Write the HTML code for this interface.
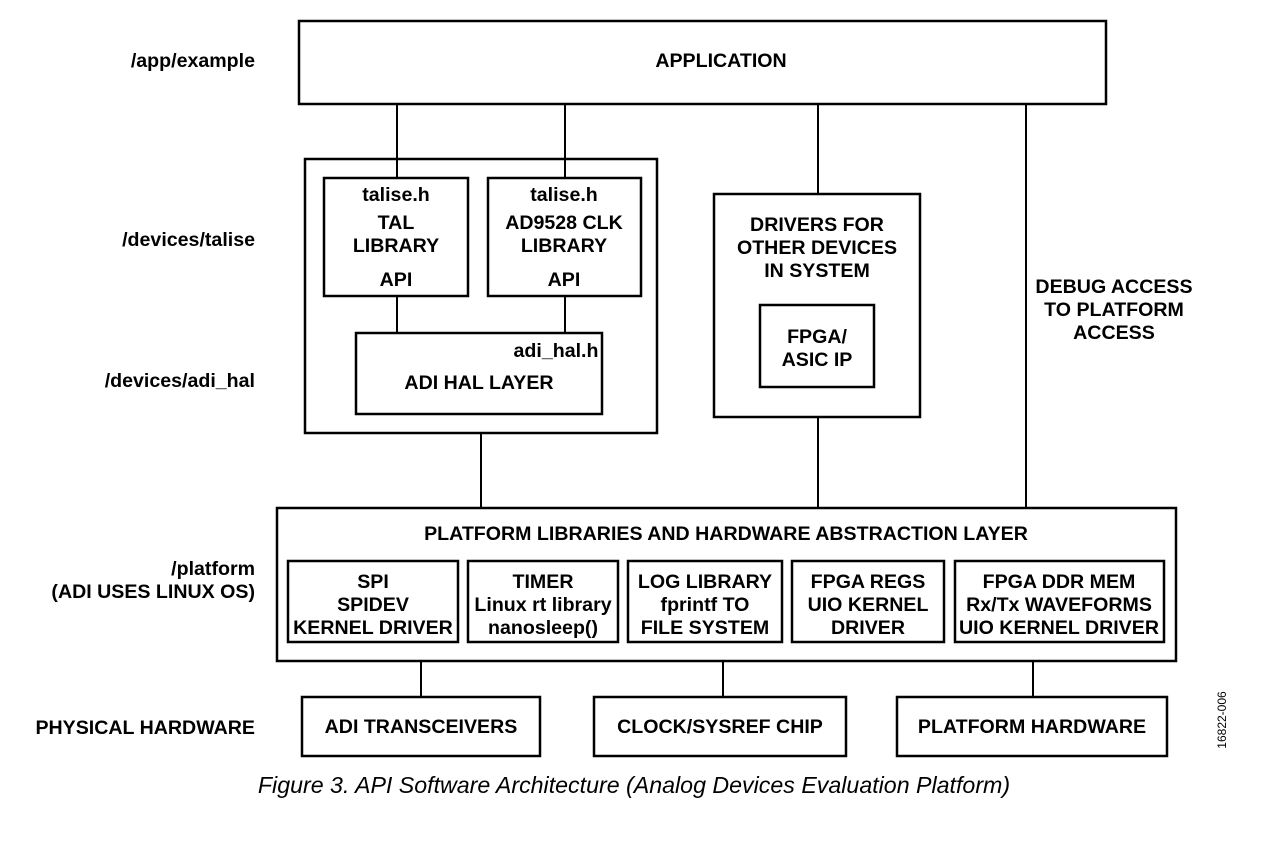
<!DOCTYPE html>
<html><head><meta charset="utf-8"><style>
html,body{margin:0;padding:0;background:#fff;}
svg text{font-family:"Liberation Sans",Arial,sans-serif;font-weight:bold;fill:#000;font-size:19.6px;}
</style></head><body>
<svg width="1263" height="858" viewBox="0 0 1263 858" xmlns="http://www.w3.org/2000/svg">
<g fill="none" stroke="#000" stroke-width="2.5">
<rect x="299" y="21" width="807" height="83"/>
<rect x="305" y="159" width="352" height="274"/>
<rect x="324" y="178" width="144" height="118"/>
<rect x="488" y="178" width="153" height="118"/>
<rect x="356" y="333" width="246" height="81"/>
<rect x="714" y="194" width="206" height="223"/>
<rect x="760" y="305" width="114" height="82"/>
<rect x="277" y="508" width="899" height="153"/>
<rect x="288" y="561" width="170" height="81"/>
<rect x="468" y="561" width="150" height="81"/>
<rect x="628" y="561" width="154" height="81"/>
<rect x="792" y="561" width="152" height="81"/>
<rect x="955" y="561" width="209" height="81"/>
<rect x="302" y="697" width="238" height="59"/>
<rect x="594" y="697" width="252" height="59"/>
<rect x="897" y="697" width="270" height="59"/>
</g>
<g stroke="#000" stroke-width="2">
<line x1="397" y1="104" x2="397" y2="178"/>
<line x1="565" y1="104" x2="565" y2="178"/>
<line x1="818" y1="104" x2="818" y2="194"/>
<line x1="1026" y1="104" x2="1026" y2="508"/>
<line x1="397" y1="296" x2="397" y2="333"/>
<line x1="565" y1="296" x2="565" y2="333"/>
<line x1="481" y1="433" x2="481" y2="508"/>
<line x1="818" y1="417" x2="818" y2="508"/>
<line x1="421" y1="661" x2="421" y2="697"/>
<line x1="723" y1="661" x2="723" y2="697"/>
<line x1="1033" y1="661" x2="1033" y2="697"/>
</g>
<g text-anchor="end">
<text x="255" y="67">/app/example</text>
<text x="255" y="246">/devices/talise</text>
<text x="255" y="387">/devices/adi_hal</text>
<text x="255" y="575">/platform</text>
<text x="255" y="598">(ADI USES LINUX OS)</text>
<text x="255" y="734">PHYSICAL HARDWARE</text>
</g>
<g text-anchor="middle">
<text x="721" y="67">APPLICATION</text>
<text x="396" y="201">talise.h</text>
<text x="396" y="229">TAL</text>
<text x="396" y="252">LIBRARY</text>
<text x="396" y="286">API</text>
<text x="564" y="201">talise.h</text>
<text x="564" y="229">AD9528 CLK</text>
<text x="564" y="252">LIBRARY</text>
<text x="564" y="286">API</text>
<text x="556" y="357">adi_hal.h</text>
<text x="479" y="389">ADI HAL LAYER</text>
<text x="817" y="231">DRIVERS FOR</text>
<text x="817" y="254">OTHER DEVICES</text>
<text x="817" y="277">IN SYSTEM</text>
<text x="817" y="343">FPGA/</text>
<text x="817" y="366">ASIC IP</text>
<text x="1114" y="293">DEBUG ACCESS</text>
<text x="1114" y="316">TO PLATFORM</text>
<text x="1114" y="339">ACCESS</text>
<text x="726" y="540">PLATFORM LIBRARIES AND HARDWARE ABSTRACTION LAYER</text>
<text x="373" y="588">SPI</text>
<text x="373" y="611">SPIDEV</text>
<text x="373" y="634">KERNEL DRIVER</text>
<text x="543" y="588">TIMER</text>
<text x="543" y="611">Linux rt library</text>
<text x="543" y="634">nanosleep()</text>
<text x="705" y="588">LOG LIBRARY</text>
<text x="705" y="611">fprintf TO</text>
<text x="705" y="634">FILE SYSTEM</text>
<text x="868" y="588">FPGA REGS</text>
<text x="868" y="611">UIO KERNEL</text>
<text x="868" y="634">DRIVER</text>
<text x="1059" y="588">FPGA DDR MEM</text>
<text x="1059" y="611">Rx/Tx WAVEFORMS</text>
<text x="1059" y="634">UIO KERNEL DRIVER</text>
<text x="421" y="733">ADI TRANSCEIVERS</text>
<text x="720" y="733">CLOCK/SYSREF CHIP</text>
<text x="1032" y="733">PLATFORM HARDWARE</text>
<text x="634" y="793" style="font-weight:normal;font-style:italic;font-size:23.2px">Figure 3. API Software Architecture (Analog Devices Evaluation Platform)</text>
<text x="0" y="0" transform="translate(1226,720) rotate(-90)" style="font-weight:normal;font-size:12px">16822-006</text>
</g>
</svg>
</body></html>
